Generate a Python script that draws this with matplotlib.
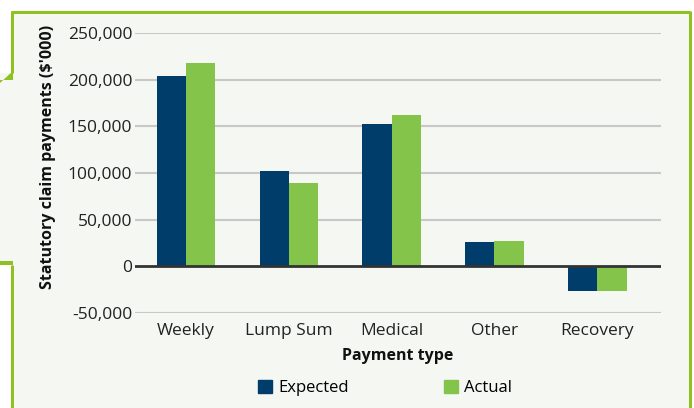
import matplotlib.pyplot as plt
import matplotlib.patches as mpatches
from matplotlib.ticker import FuncFormatter
import numpy as np

categories = ["Weekly", "Lump Sum", "Medical", "Other", "Recovery"]
expected = [204000, 102000, 153000, 26000, -26000]
actual = [217500, 89000, 162000, 27000, -26000]
yticks = [-50000, 0, 50000, 100000, 150000, 200000, 250000]

NAVY = "#003d6b"
GREEN = "#84c44a"
FRAME = "#8dc21f"
BG = "#f5f7f2"

plt.rcParams['font.family'] = ['Open Sans', 'DejaVu Sans']

W, H = 694, 408
fig = plt.figure(figsize=(W / 100, H / 100), dpi=100, facecolor="white")

def px(x, y):
    return (x, H - y)

# background panels
fig.patches.append(mpatches.Rectangle(px(12, 408), 678, 397, transform=None,
                                      facecolor=BG, edgecolor="none", zorder=-3))
fig.patches.append(mpatches.Rectangle(px(0, 263), 12, 190, transform=None,
                                      facecolor=BG, edgecolor="none", zorder=-3))
# frame lines
def line(x0, y0, x1, y1, lw=3):
    fig.lines.append(plt.Line2D([x0, x1], [H - y0, H - y1], transform=None,
                                color=FRAME, lw=lw * 0.72, solid_capstyle="butt", zorder=-2))
line(11, 12, 690, 12)
line(689.5, 11, 689.5, 408)
line(12, 11, 12, 73)
line(12, 265, 12, 408)
line(0, 263, 13, 263, lw=4)
fig.patches.append(mpatches.Polygon([px(0, 83), px(13, 71), px(13, 80), px(0, 80)],
                                    closed=True, transform=None, facecolor=FRAME,
                                    edgecolor="none", zorder=-2))

ax = fig.add_axes([135 / W, (H - 313) / H, 526 / W, 280 / H])
ax.set_zorder(1)
ax.set_facecolor("none")
x = np.arange(len(categories))
bw = 0.285
ax.bar(x - bw / 2, expected, bw, color=NAVY, label="Expected", zorder=3)
ax.bar(x + bw / 2, actual, bw, color=GREEN, label="Actual", zorder=3)
ax.set_xlim(-0.497, len(categories) - 0.38)
ax.set_ylim(-50000, 250000)
ax.set_yticks(yticks)
ax.yaxis.set_major_formatter(FuncFormatter(lambda v, p: f"{int(v):,}"))
for t in yticks:
    if t == 0:
        ax.axhline(0, color="#333333", lw=2, zorder=4)
    else:
        ax.axhline(t, color="#c8c8c8", lw=1.5, zorder=1)
for s in ax.spines.values():
    s.set_visible(False)
ax.tick_params(length=0, labelsize=12.5, colors="#222222")
ax.tick_params(axis="y", pad=2)
ax.tick_params(axis="x", pad=7)
ax.set_xticks(x)
ax.set_xticklabels(categories)
ax.set_xlabel("Payment type", fontsize=11.5, fontweight="bold", color="#111111", labelpad=7)
ax.set_ylabel("Statutory claim payments ($'000)", fontsize=11.5, fontweight="bold",
              color="#111111", va="center")
ax.yaxis.set_label_coords((48 - 135) / 526, (313 - 157) / 280)

handles = [mpatches.Patch(color=NAVY), mpatches.Patch(color=GREEN)]
fig.legend(handles, ["Expected", "Actual"], loc="center", bbox_to_anchor=(385 / W, 20 / H),
           ncol=2, frameon=False, handlelength=0.85, handleheight=0.85, handletextpad=0.35,
           columnspacing=5.7, fontsize=12)

fig.savefig("out.png", dpi=100, facecolor="white")
